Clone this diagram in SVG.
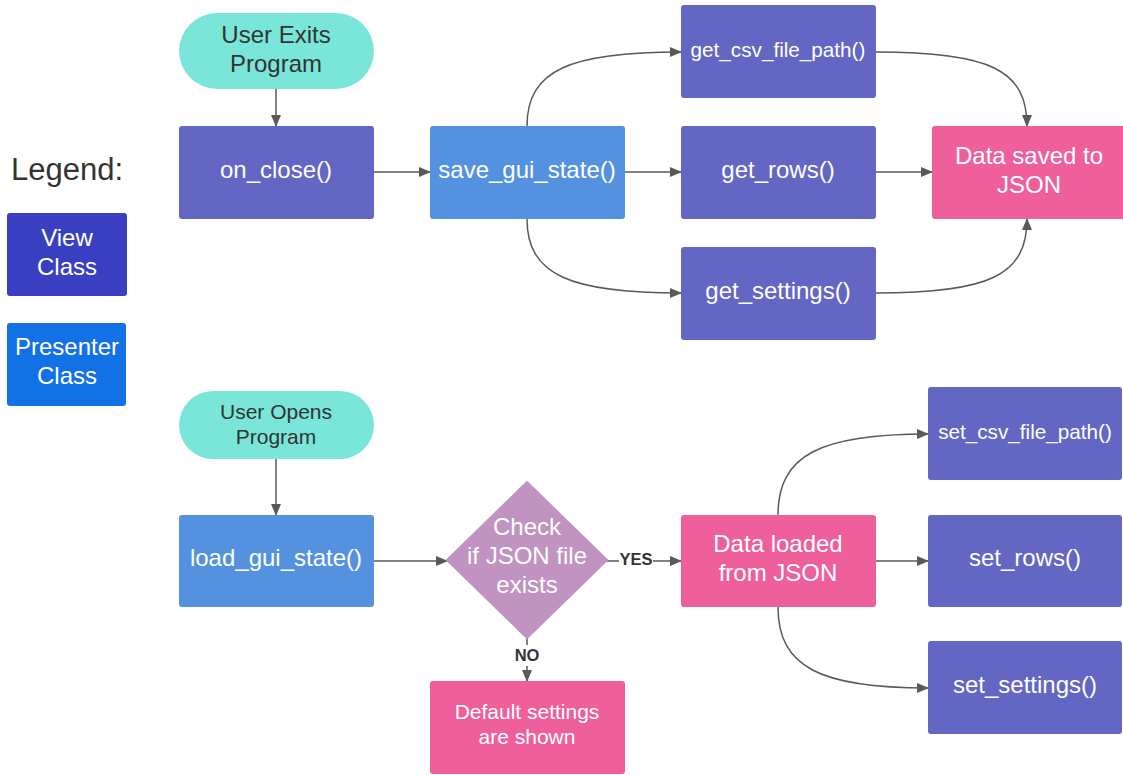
<svg xmlns="http://www.w3.org/2000/svg" width="1123" height="775" viewBox="0 0 1123 775">
<defs>
<marker id="ah" markerWidth="12" markerHeight="10" refX="11" refY="5" orient="auto" markerUnits="userSpaceOnUse">
<path d="M0,0 L12,5 L0,10 Z" fill="#595959"/>
</marker>
<style>
text{font-family:"Liberation Sans",Arial,sans-serif;text-anchor:middle}
.w{fill:#ffffff}
.d{fill:#333333}
.view{fill:#6366c3}
.pres{fill:#5492e0}
.pink{fill:#ef5f9c}
.term{fill:#79e6d9}
.c{fill:none;stroke:#595959;stroke-width:1.5;marker-end:url(#ah)}
.lbl{font-weight:bold;font-size:16.5px;fill:#333333}
</style>
</defs>
<rect width="1123" height="775" fill="#ffffff"/>

<g id="legend">
<text x="67" y="180" font-size="31" class="d">Legend:</text>
<rect x="7" y="213" width="120" height="83" rx="3" fill="#3a3fc1"/>
<text x="67" y="246" font-size="24" class="w">View</text>
<text x="67" y="275" font-size="24" class="w">Class</text>
<rect x="7" y="323" width="119" height="83" rx="3" fill="#1271e5"/>
<text x="67" y="355" font-size="24" class="w">Presenter</text>
<text x="67" y="384" font-size="24" class="w">Class</text>
</g>

<g id="connectors">
<path class="c" d="M276,89 L276,126"/>
<path class="c" d="M374,172 L430,172"/>
<path class="c" d="M527,126 C527,70 570,52 681,52"/>
<path class="c" d="M625,172 L681,172"/>
<path class="c" d="M527,219 C527,275 570,293 681,293"/>
<path class="c" d="M876,52 C990,52 1027,70 1027,126"/>
<path class="c" d="M876,172 L932,172"/>
<path class="c" d="M876,293 C990,293 1027,275 1027,219"/>
<path class="c" d="M276,459 L276,515"/>
<path class="c" d="M374,561 L447,561"/>
<path fill="none" stroke="#595959" stroke-width="1.5" d="M607,561 L619,561"/>
<path class="c" d="M653,561 L681,561"/>
<text x="636" y="565" class="lbl">YES</text>
<path fill="none" stroke="#595959" stroke-width="1.5" d="M527,638 L527,645"/>
<text x="527" y="661" class="lbl">NO</text>
<path class="c" d="M527,666 L527,681"/>
<path class="c" d="M778,515 C778,455 820,434 928,434"/>
<path class="c" d="M876,561 L928,561"/>
<path class="c" d="M778,607 C778,667 820,688 928,688"/>
</g>

<g id="user-exits">
<rect x="179" y="13" width="195" height="76" rx="38" class="term"/>
<text x="276" y="43" font-size="24" class="d">User Exits</text>
<text x="276" y="72" font-size="24" class="d">Program</text>
</g>
<g id="on-close">
<rect x="179" y="126" width="195" height="93" rx="3" class="view"/>
<text x="276" y="178" font-size="24" class="w">on_close()</text>
</g>
<g id="save-gui-state">
<rect x="430" y="126" width="195" height="93" rx="3" class="pres"/>
<text x="527" y="178" font-size="24" class="w">save_gui_state()</text>
</g>
<g id="get-csv">
<rect x="681" y="5" width="195" height="93" rx="3" class="view"/>
<text x="778" y="57" font-size="20.7" class="w">get_csv_file_path()</text>
</g>
<g id="get-rows">
<rect x="681" y="126" width="195" height="93" rx="3" class="view"/>
<text x="778" y="178" font-size="24" class="w">get_rows()</text>
</g>
<g id="get-settings">
<rect x="681" y="247" width="195" height="93" rx="3" class="view"/>
<text x="778" y="299" font-size="24" class="w">get_settings()</text>
</g>
<g id="data-saved">
<rect x="932" y="126" width="195" height="93" rx="3" class="pink"/>
<text x="1029" y="164" font-size="24" class="w">Data saved to</text>
<text x="1029" y="193" font-size="24" class="w">JSON</text>
</g>

<g id="user-opens">
<rect x="179" y="391" width="195" height="68" rx="34" class="term"/>
<text x="276" y="419" font-size="21" class="d">User Opens</text>
<text x="276" y="444" font-size="21" class="d">Program</text>
</g>
<g id="load-gui-state">
<rect x="179" y="515" width="195" height="92" rx="3" class="pres"/>
<text x="276" y="566" font-size="24" class="w">load_gui_state()</text>
</g>
<g id="check-json">
<path d="M527,482 L607,560 L527,638 L447,560 Z" fill="#c093c0" stroke="#c093c0" stroke-width="2" stroke-linejoin="round"/>
<text x="527" y="535" font-size="24" class="w">Check</text>
<text x="527" y="564" font-size="24" class="w">if JSON file</text>
<text x="527" y="593" font-size="24" class="w">exists</text>
</g>
<g id="default-settings">
<rect x="430" y="681" width="195" height="93" rx="3" class="pink"/>
<text x="527" y="719" font-size="21" class="w">Default settings</text>
<text x="527" y="744" font-size="21" class="w">are shown</text>
</g>
<g id="data-loaded">
<rect x="681" y="515" width="195" height="92" rx="3" class="pink"/>
<text x="778" y="552" font-size="24" class="w">Data loaded</text>
<text x="778" y="581" font-size="24" class="w">from JSON</text>
</g>
<g id="set-csv">
<rect x="928" y="387" width="194" height="93" rx="3" class="view"/>
<text x="1025" y="439" font-size="20.7" class="w">set_csv_file_path()</text>
</g>
<g id="set-rows">
<rect x="928" y="515" width="194" height="92" rx="3" class="view"/>
<text x="1025" y="566" font-size="24" class="w">set_rows()</text>
</g>
<g id="set-settings">
<rect x="928" y="641" width="194" height="93" rx="3" class="view"/>
<text x="1025" y="693" font-size="24" class="w">set_settings()</text>
</g>
</svg>
